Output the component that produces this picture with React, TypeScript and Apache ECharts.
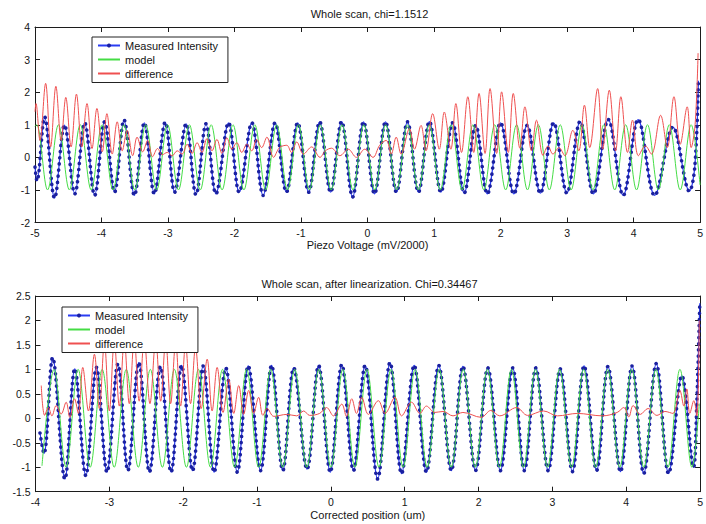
import React, { useEffect, useRef } from "react";
import * as echarts from "echarts";

// ---------- texts ----------
const topTitle = "Whole scan, chi=1.1512";
const bottomTitle = "Whole scan, after linearization. Chi=0.34467";
const topXName = "Piezo Voltage (mV/2000)";
const bottomXName = "Corrected position (um)";
const legendNames = ["Measured Intensity", "model", "difference"];

// ---------- axis ranges [min, max, interval] ----------
const topXRange = [-5, 5, 1];
const topYRange = [-2, 4, 1];
const bottomXRange = [-4, 5, 1];
const bottomYRange = [-1.5, 2.5, 0.5];

// ---------- top plot: measured intensity (extrema) ----------
const topMeasuredX = [-5.0, -4.97, -4.855, -4.706, -4.556, -4.402, -4.253, -4.103, -3.954, -3.804, -3.662, -3.505, -3.356, -3.206, -3.042, -2.9, -2.728, -2.579, -2.429, -2.28, -2.09, -1.93, -1.74, -1.57, -1.39, -1.22, -1.05, -0.885, -0.72, -0.555, -0.39, -0.225, -0.06, 0.105, 0.27, 0.435, 0.6, 0.765, 0.93, 1.103, 1.278, 1.453, 1.626, 1.801, 2.0, 2.2, 2.399, 2.598, 2.798, 2.997, 3.196, 3.396, 3.62, 3.844, 4.069, 4.317, 4.592, 4.84, 4.92, 4.975];
const topMeasuredY = [-0.3, -0.72, 1.24, -1.25, 0.99, -1.12, 1.06, -1.17, 1.09, -1.07, 1.15, -1.17, 1.06, -1.12, 1.08, -1.07, 1.03, -1.15, 1.03, -1.12, 1.06, -1.07, 1.06, -1.17, 1.06, -1.07, 1.06, -1.07, 1.09, -1.07, 1.1, -1.22, 1.09, -1.12, 1.09, -1.07, 1.09, -1.07, 1.1, -1.07, 1.06, -1.1, 0.98, -1.12, 1.06, -1.12, 0.98, -1.1, 1.06, -1.1, 1.1, -1.12, 1.16, -1.17, 1.16, -1.17, 0.93, -1.04, -0.3, 2.35];

// ---------- top plot: model ----------
const topModelX = [-5.0, -4.975, -4.811, -4.647, -4.483, -4.319, -4.155, -3.991, -3.827, -3.663, -3.499, -3.335, -3.171, -3.007, -2.843, -2.679, -2.515, -2.351, -2.187, -2.023, -1.859, -1.695, -1.531, -1.367, -1.203, -1.039, -0.875, -0.711, -0.547, -0.383, -0.219, -0.055, 0.109, 0.273, 0.437, 0.601, 0.765, 0.929, 1.093, 1.257, 1.421, 1.585, 1.749, 1.913, 2.077, 2.241, 2.405, 2.569, 2.733, 2.897, 3.061, 3.225, 3.389, 3.553, 3.717, 3.881, 4.045, 4.209, 4.373, 4.537, 4.701, 4.865, 5.0];
const topModelY = [0.95, 1, -1, 1, -1, 1, -1, 1, -1, 1, -1, 1, -1, 1, -1, 1, -1, 1, -1, 1, -1, 1, -1, 1, -1, 1, -1, 1, -1, 1, -1, 1, -1, 1, -1, 1, -1, 1, -1, 1, -1, 1, -1, 1, -1, 1, -1, 1, -1, 1, -1, 1, -1, 1, -1, 1, -1, 1, -1, 1, -1, 1, -0.85];

// ---------- top plot: difference ----------
const topDiffX = [-5.0, -4.985, -4.925, -4.84, -4.765, -4.686, -4.607, -4.537, -4.457, -4.377, -4.297, -4.218, -4.143, -4.069, -3.988, -3.919, -3.839, -3.764, -3.689, -3.614, -3.531, -3.465, -3.381, -3.306, -3.232, -3.157, -3.087, -3.012, -2.937, -2.862, -2.788, -2.713, -2.638, -2.563, -2.489, -2.414, -2.339, -2.265, -2.19, -2.115, -2.04, -1.966, -1.891, -1.816, -1.741, -1.667, -1.592, -1.513, -1.413, -1.323, -1.214, -1.144, -1.064, -0.964, -0.84, -0.715, -0.635, -0.541, -0.416, -0.291, -0.167, -0.042, 0.082, 0.182, 0.281, 0.356, 0.431, 0.505, 0.631, 0.706, 0.804, 0.879, 0.979, 1.079, 1.154, 1.253, 1.328, 1.413, 1.508, 1.597, 1.677, 1.767, 1.842, 1.941, 2.016, 2.116, 2.191, 2.291, 2.366, 2.465, 2.54, 2.639, 2.713, 2.788, 2.877, 2.967, 3.087, 3.176, 3.261, 3.341, 3.46, 3.535, 3.635, 3.73, 3.809, 3.909, 3.984, 4.073, 4.178, 4.268, 4.407, 4.507, 4.607, 4.701, 4.806, 4.866, 4.925, 4.97];
const topDiffY = [1.4, 1.65, 0.52, 2.27, 0.32, 2.18, 0.52, 1.84, 0.32, 1.94, 0.32, 1.65, 0.27, 1.5, 0.17, 1.34, 0.1, 1.09, 0.2, 0.83, 0.05, 0.62, 0.17, 0.52, 0.02, 0.27, 0.08, 0.15, 0.05, 0.2, 0.1, 0.4, 0.12, 0.45, 0.15, 0.58, 0.2, 0.55, 0.12, 0.6, 0.25, 0.45, 0.15, 0.4, 0.2, 0.55, 0.3, 0.62, 0.0, 0.3, 0.37, 0.15, 0.47, 0.1, 0.32, 0.0, 0.2, 0.28, 0.05, 0.25, 0.0, 0.25, 0.0, 0.37, 0.52, 0.1, 0.62, 0.1, 0.88, 0.25, 0.98, 0.2, 1.34, 0.25, 1.39, 0.25, 1.65, 0.15, 1.86, 0.15, 1.96, 0.12, 2.11, 0.12, 2.01, 0.15, 1.96, 0.28, 1.55, 0.2, 1.14, 0.06, 0.35, 0.1, 0.3, 0.05, 0.83, 0.2, 1.6, 0.3, 2.11, 0.25, 2.06, 0.2, 1.86, 0.15, 1.14, 0.05, 0.35, 0.1, 1.29, 0.3, 1.86, 0.4, 1.55, 0.3, 1.0, 3.2];

// ---------- bottom plot: measured intensity ----------
const botMeasuredX = [-3.939, -3.885, -3.768, -3.602, -3.468, -3.319, -3.175, -3.032, -2.884, -2.749, -2.601, -2.457, -2.309, -2.164, -2.022, -1.873, -1.729, -1.581, -1.423, -1.267, -1.119, -0.952, -0.803, -0.651, -0.503, -0.323, -0.166, -0.008, 0.148, 0.306, 0.464, 0.633, 0.801, 0.957, 1.128, 1.294, 1.461, 1.631, 1.788, 1.959, 2.125, 2.296, 2.462, 2.62, 2.776, 2.943, 3.105, 3.271, 3.429, 3.598, 3.752, 3.922, 4.079, 4.237, 4.407, 4.574, 4.753, 4.911, 4.955, 4.996];
const botMeasuredY = [-0.3, -0.72, 1.24, -1.24, 1.01, -1.17, 1.04, -1.1, 1.11, -1.07, 1.14, -1.1, 1.06, -1.1, 1.08, -1.07, 1.07, -1.1, 1.03, -1.1, 1.07, -1.07, 1.08, -1.07, 1.03, -1.04, 1.08, -1.1, 1.1, -1.07, 1.08, -1.24, 1.14, -1.13, 1.08, -1.1, 1.08, -1.07, 1.06, -1.07, 1.03, -1.07, 1.03, -1.07, 1.03, -1.07, 1.01, -1.09, 1.07, -1.07, 1.06, -1.09, 1.07, -1.13, 1.12, -1.13, 0.87, -1.0, 0.3, 2.35];

// ---------- bottom plot: model ----------
const botModelX = [-3.912, -3.749, -3.586, -3.423, -3.26, -3.097, -2.934, -2.771, -2.608, -2.445, -2.282, -2.119, -1.956, -1.793, -1.63, -1.467, -1.304, -1.141, -0.978, -0.815, -0.652, -0.489, -0.326, -0.163, 0.0, 0.163, 0.326, 0.489, 0.652, 0.815, 0.978, 1.141, 1.304, 1.467, 1.63, 1.793, 1.956, 2.119, 2.282, 2.445, 2.608, 2.771, 2.934, 3.097, 3.26, 3.423, 3.586, 3.749, 3.912, 4.075, 4.238, 4.401, 4.564, 4.727, 4.89, 4.99];
const botModelY = [-0.97, 1, -1, 1, -1, 1, -1, 1, -1, 1, -1, 1, -1, 1, -1, 1, -1, 1, -1, 1, -1, 1, -1, 1, -1, 1, -1, 1, -1, 1, -1, 1, -1, 1, -1, 1, -1, 1, -1, 1, -1, 1, -1, 1, -1, 1, -1, 1, -1, 1, -1, 1, -1, 1, -1, 0.3];

// ---------- bottom plot: difference ----------
const botDiffX = [-3.922, -3.876, -3.825, -3.778, -3.72, -3.652, -3.585, -3.535, -3.472, -3.42, -3.36, -3.283, -3.202, -3.135, -3.067, -3.0, -2.933, -2.865, -2.798, -2.73, -2.663, -2.596, -2.528, -2.45, -2.372, -2.305, -2.237, -2.17, -2.102, -2.035, -1.968, -1.9, -1.833, -1.756, -1.675, -1.608, -1.54, -1.46, -1.383, -1.315, -1.248, -1.181, -1.113, -1.046, -0.978, -0.921, -0.863, -0.772, -0.597, -0.462, -0.368, -0.287, -0.152, -0.058, 0.036, 0.148, 0.211, 0.283, 0.347, 0.418, 0.508, 0.643, 0.733, 0.868, 0.957, 1.092, 1.205, 1.294, 1.407, 1.519, 1.654, 1.788, 2.035, 2.166, 2.287, 2.516, 2.664, 2.88, 3.069, 3.338, 3.675, 3.877, 3.967, 4.035, 4.093, 4.19, 4.295, 4.416, 4.524, 4.632, 4.726, 4.78, 4.82, 4.861, 4.915, 4.956, 4.989];
const botDiffY = [0.67, 0.06, 0.22, 0.05, 0.26, 0.09, 0.33, 0.02, 0.4, 0.1, 1.04, 0.15, 1.31, 0.2, 1.55, 0.15, 1.58, 0.25, 1.6, 0.3, 1.62, 0.35, 1.62, 0.3, 1.6, 0.35, 1.58, 0.3, 1.55, 0.25, 1.5, 0.3, 1.45, 0.2, 1.21, 0.15, 1.04, 0.12, 0.8, 0.1, 0.67, 0.08, 0.57, 0.1, 0.43, 0.06, 0.2, 0.04, 0.08, 0.05, 0.15, 0.06, 0.1, 0.22, 0.05, 0.29, 0.04, 0.4, 0.1, 0.43, 0.08, 0.36, 0.1, 0.43, 0.05, 0.33, 0.1, 0.25, 0.12, 0.14, 0.05, 0.12, 0.02, 0.16, 0.05, 0.22, 0.06, 0.15, 0.05, 0.1, 0.05, 0.12, 0.22, 0.03, 0.26, 0.08, 0.2, 0.06, 0.14, 0.1, 0.57, 0.25, 0.6, 0.1, 0.36, 0.05, 2.0];

// ---------- styling ----------
const FONT = '"Liberation Sans", Arial, Helvetica, sans-serif';
const AXIS_COLOR = "#1c1c1c";
const TEXT_COLOR = "#151515";
const BLUE_LINE = "#2a3cf2";
const BLUE_DOT = "#1a20a0";
const GREEN = "#45dc45";
const RED = "#ef5050";
const SMOOTH = 0.36;

const pairs = (xs: number[], ys: number[]) => {
  const n = Math.min(xs.length, ys.length);
  const out: number[][] = [];
  for (let i = 0; i < n; i++) out.push([xs[i], ys[i]]);
  return out;
};

function xAxisDef(gridIndex: number, range: number[], position: "bottom" | "top", name?: string, nameGap?: number) {
  const isMain = position === "bottom";
  return {
    type: "value",
    gridIndex,
    position,
    min: range[0],
    max: range[1],
    interval: range[2],
    splitLine: { show: false },
    axisLine: { show: true, onZero: false, lineStyle: { color: AXIS_COLOR, width: 1 } },
    axisTick: { show: true, inside: true, length: 5, lineStyle: { color: AXIS_COLOR, width: 1 } },
    axisLabel: { show: isMain, margin: 5, fontSize: 10.5, fontFamily: FONT, color: TEXT_COLOR },
    name: isMain ? name : undefined,
    nameLocation: "middle",
    nameGap: nameGap ?? 15,
    nameTextStyle: { fontSize: 11, fontFamily: FONT, color: TEXT_COLOR },
  };
}

function yAxisDef(gridIndex: number, range: number[], position: "left" | "right") {
  const isMain = position === "left";
  return {
    type: "value",
    gridIndex,
    position,
    min: range[0],
    max: range[1],
    interval: range[2],
    splitLine: { show: false },
    axisLine: { show: true, onZero: false, lineStyle: { color: AXIS_COLOR, width: 1 } },
    axisTick: { show: true, inside: true, length: 5, lineStyle: { color: AXIS_COLOR, width: 1 } },
    axisLabel: { show: isMain, margin: 5, fontSize: 10.5, fontFamily: FONT, color: TEXT_COLOR },
  };
}

function seriesSet(xi: number, yi: number, measured: number[][], model: number[][], diff: number[][]) {
  const base = { type: "line", xAxisIndex: xi, yAxisIndex: yi, smooth: SMOOTH, silent: true, emphasis: { disabled: true } };
  return [
    {
      ...base,
      name: legendNames[0],
      data: measured,
      symbol: "circle",
      symbolSize: 4,
      showSymbol: false,
      lineStyle: { color: BLUE_LINE, width: 1.2 },
      itemStyle: { color: BLUE_DOT },
    },
    {
      ...base,
      name: "Measured Intensity samples",
      data: measured,
      symbol: "none",
      lineStyle: { color: BLUE_DOT, width: 3.6, type: [0.1, 6], cap: "round" },
      itemStyle: { color: BLUE_DOT },
    },
    {
      ...base,
      name: legendNames[1],
      data: model,
      symbol: "none",
      lineStyle: { color: GREEN, width: 1 },
      itemStyle: { color: GREEN },
    },
    {
      ...base,
      name: legendNames[2],
      data: diff,
      symbol: "none",
      lineStyle: { color: RED, width: 1 },
      itemStyle: { color: RED },
    },
  ];
}

function legendDef(left: number, top: number) {
  return {
    show: true,
    orient: "vertical",
    left,
    top,
    selectedMode: false,
    itemWidth: 22,
    itemHeight: 5,
    itemGap: 3,
    padding: [3, 10, 3.5, 5],
    borderColor: "#222",
    borderWidth: 1,
    backgroundColor: "#ffffff",
    textStyle: { fontSize: 11, fontFamily: FONT, color: TEXT_COLOR },
    data: [
      { name: legendNames[0] },
      { name: legendNames[1], itemStyle: { opacity: 0 } },
      { name: legendNames[2], itemStyle: { opacity: 0 } },
    ],
  };
}

export default function App() {
  const ref = useRef<HTMLDivElement>(null);

  useEffect(() => {
    if (!ref.current) return;
    const chart = echarts.init(ref.current, undefined, { renderer: "svg" });

    const option: any = {
      animation: false,
      backgroundColor: "#ffffff",
      textStyle: { fontFamily: FONT },
      grid: [
        { left: 35, right: 2, top: 27, height: 195.5, containLabel: false },
        { left: 35.5, right: 2.5, top: 296, height: 195.7, containLabel: false },
      ],
      xAxis: [
        xAxisDef(0, topXRange, "bottom", topXName, 16),
        xAxisDef(0, topXRange, "top"),
        xAxisDef(1, bottomXRange, "bottom", bottomXName, 18),
        xAxisDef(1, bottomXRange, "top"),
      ],
      yAxis: [
        yAxisDef(0, topYRange, "left"),
        yAxisDef(0, topYRange, "right"),
        yAxisDef(1, bottomYRange, "left"),
        yAxisDef(1, bottomYRange, "right"),
      ],
      legend: [legendDef(92, 37), legendDef(62, 307)],
      graphic: [
        {
          type: "text",
          x: 369.5,
          y: 14,
          style: { text: topTitle, fontSize: 11, fontFamily: FONT, fill: TEXT_COLOR, align: "center", verticalAlign: "middle" },
        },
        {
          type: "text",
          x: 369.5,
          y: 284,
          style: { text: bottomTitle, fontSize: 11, fontFamily: FONT, fill: TEXT_COLOR, align: "center", verticalAlign: "middle" },
        },
      ],
      series: [
        ...seriesSet(0, 0, pairs(topMeasuredX, topMeasuredY), pairs(topModelX, topModelY), pairs(topDiffX, topDiffY)),
        ...seriesSet(2, 2, pairs(botMeasuredX, botMeasuredY), pairs(botModelX, botModelY), pairs(botDiffX, botDiffY)),
      ],
    };

    chart.setOption(option);
    return () => chart.dispose();
  }, []);

  return (
    <div
      ref={ref}
      style={{ position: "absolute", left: 0, top: 0, width: 706, height: 524, background: "#fff" }}
    />
  );
}
